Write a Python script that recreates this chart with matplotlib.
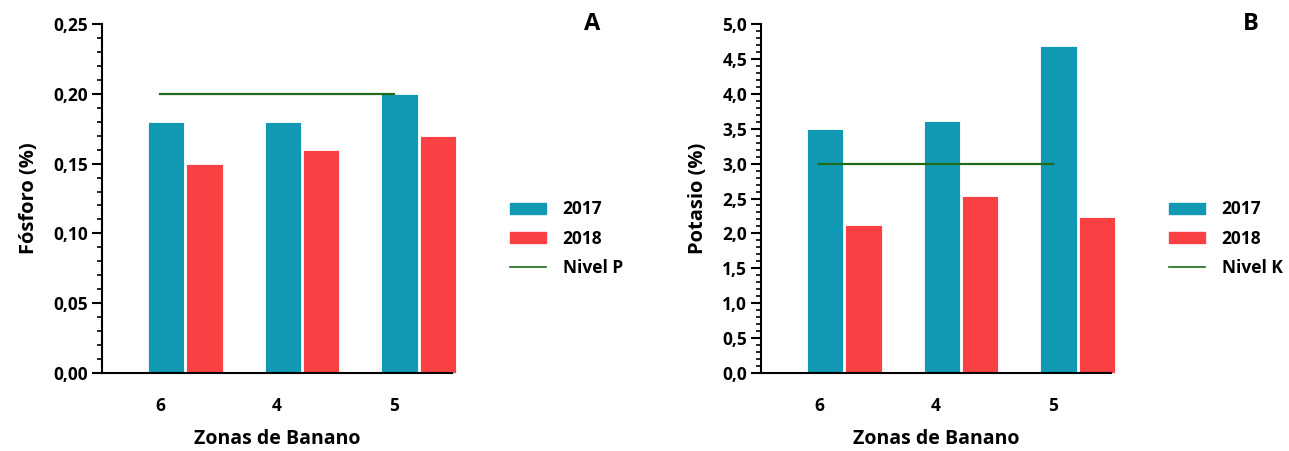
import numpy as np
import matplotlib
matplotlib.use("Agg")
import matplotlib.pyplot as plt
from matplotlib.ticker import MultipleLocator, FuncFormatter
from matplotlib.patches import Patch
from matplotlib.lines import Line2D

plt.rcParams['font.family'] = ['Open Sans', 'DejaVu Sans']
plt.rcParams['font.weight'] = 'bold'

zonas = ["6", "4", "5"]
fosforo_2017 = [0.18, 0.18, 0.20]
fosforo_2018 = [0.15, 0.16, 0.17]
nivel_p = 0.20
potasio_2017 = [3.49, 3.61, 4.68]
potasio_2018 = [2.12, 2.53, 2.24]
nivel_k = 3.0

c17 = "#1198b3"
c18 = "#f94144"
cniv = "#1f6b1a"

fig = plt.figure(figsize=(12.89, 4.51), dpi=100)
ax1 = fig.add_axes([102/1289, 1-373/451, 350/1289, 349/451])
ax2 = fig.add_axes([761/1289, 1-373/451, 350/1289, 349/451])

x = np.arange(len(zonas))
w = 0.31


def panel(ax, v17, v18, nivel, ymax, major, minor, dec, ylab, letra, nivlab):
    ax.bar(x + 0.05, v17, w, color=c17, edgecolor="white", linewidth=0.6, clip_on=False)
    ax.bar(x + 0.378, v18, w, color=c18, edgecolor="white", linewidth=0.6, clip_on=False)
    ax.plot([x[0], x[-1]], [nivel, nivel], color=cniv, lw=1.6)
    ax.set_xlim(-0.5, 2.5)
    ax.set_ylim(0, ymax)
    ax.set_xticks(x)
    ax.set_xticklabels(zonas, fontsize=12.5, fontweight="bold")
    ax.tick_params(axis="x", length=0, pad=17)
    ax.yaxis.set_major_locator(MultipleLocator(major))
    ax.yaxis.set_minor_locator(MultipleLocator(minor))
    ax.yaxis.set_major_formatter(FuncFormatter(lambda v, p: f"{v:.{dec}f}".replace(".", ",")))
    ax.tick_params(axis="y", which="major", length=7, width=1.5, labelsize=12.5, pad=3)
    ax.tick_params(axis="y", which="minor", length=3.5, width=1.2)
    for t in ax.get_yticklabels():
        t.set_fontweight("bold")
    for s in ["top", "right"]:
        ax.spines[s].set_visible(False)
    for s in ["left", "bottom"]:
        ax.spines[s].set_linewidth(1.5)
    ax.set_xlabel("Zonas de Banano", fontsize=14, fontweight="bold", labelpad=10)
    ax.set_ylabel(ylab, fontsize=14.5, fontweight="bold", labelpad=10)
    handles = [Patch(color=c17), Patch(color=c18), Line2D([], [], color=cniv, lw=1.2)]
    ax.legend(handles, ["2017", "2018", nivlab], loc="center left",
              bbox_to_anchor=(1.12, 0.385), frameon=False, fontsize=12.5,
              handlelength=2.1, handleheight=0.6, handletextpad=0.95, labelspacing=0.65)
    ax.text(1.4, 1.0, letra, transform=ax.transAxes, fontsize=17, fontweight="bold",
            ha="center", va="center")


panel(ax1, fosforo_2017, fosforo_2018, nivel_p, 0.25, 0.05, 0.01, 2, "Fósforo (%)", "A", "Nivel P")
panel(ax2, potasio_2017, potasio_2018, nivel_k, 5.0, 0.5, 0.1, 1, "Potasio (%)", "B", "Nivel K")

fig.savefig("out.png", dpi=100)
